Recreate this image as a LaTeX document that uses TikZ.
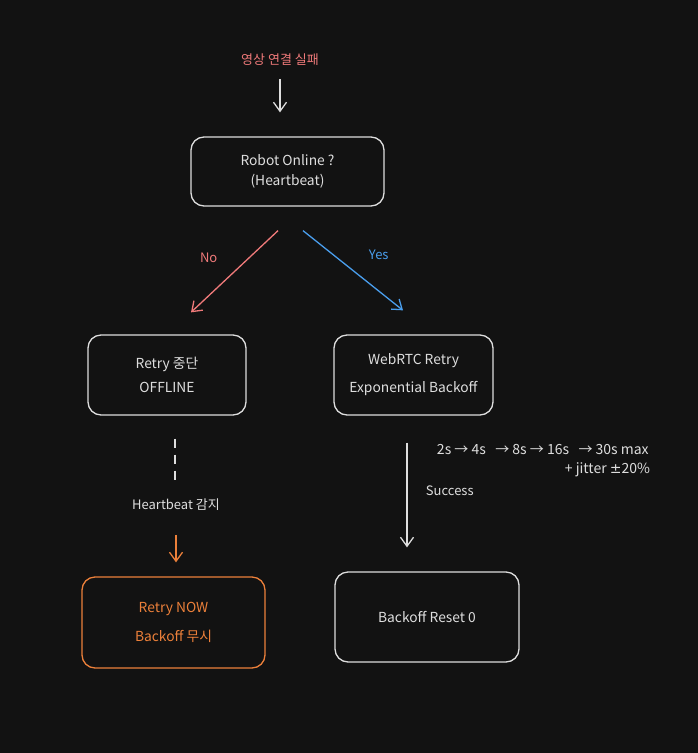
\documentclass[tikz,border=0pt]{standalone}
\usepackage{fontspec}
\setmainfont{Noto Sans CJK KR}
\newfontfamily\symfont{DejaVu Sans}
\usetikzlibrary{arrows.meta}

\definecolor{bg}{RGB}{18,18,18}
\definecolor{ink}{RGB}{222,222,222}
\definecolor{salmon}{RGB}{240,122,122}
\definecolor{skyblue}{RGB}{74,158,237}
\definecolor{tangerine}{RGB}{236,128,58}

\begin{document}
\begin{tikzpicture}[x=1pt, y=-1pt, line width=1.3pt,
  box/.style={draw=ink, rounded corners=13pt, align=center, text=ink},
  lbl/.style={text=ink, font=\fontsize{13}{15}\selectfont},
  barb/.style={-{Straight Barb[length=9pt,width=13pt]}}]

\fill[bg] (0,0) rectangle (698,753);

%question
\node[text=salmon, font=\fontsize{13}{15}\selectfont] (fail) at (280,60) {영상 연결 실패};
\node[box, minimum width=193pt, minimum height=69pt, font=\fontsize{13.8}{20}\selectfont] (online) at (287.5,171.5) {Robot Online ?\\(Heartbeat)};
\draw[barb, ink] ([yshift=-9pt]fail.south) -- ([xshift=-7.5pt,yshift=24pt]online.north);

%no branch
\node[box, minimum width=158pt, minimum height=80pt, font=\fontsize{13.8}{24}\selectfont] (stop) at (167,375) {Retry 중단\\OFFLINE};
\draw[barb, salmon] ([xshift=-9.5pt,yshift=-24pt]online.south) -- ([xshift=24pt,yshift=22pt]stop.north) node[pos=0.33, left=28pt, font=\fontsize{13}{15}\selectfont] {No};
\node[lbl] (beat) at (176,505) {Heartbeat 감지};
\draw[ink, dash pattern=on 9pt off 7pt] ([xshift=8pt,yshift=-23pt]stop.south) -- ([xshift=-1pt,yshift=12pt]beat.north);
\node[box, draw=tangerine, text=tangerine, minimum width=183pt, minimum height=91pt, font=\fontsize{13.8}{29}\selectfont] (now) at (173.5,622.5) {Retry NOW\\Backoff 무시};
\draw[barb, tangerine] ([yshift=-20pt]beat.south) -- ([xshift=2.5pt,yshift=14pt]now.north);

%yes branch
\node[box, minimum width=159pt, minimum height=80pt, font=\fontsize{13.8}{28}\selectfont] (webrtc) at (413.5,375) {WebRTC Retry\\Exponential Backoff};
\draw[barb, skyblue] ([xshift=15.5pt,yshift=-24pt]online.south) -- ([xshift=-10.5pt,yshift=24pt]webrtc.north) node[pos=0.3, right=32pt, font=\fontsize{13}{15}\selectfont] {Yes};
\node[box, minimum width=184pt, minimum height=90pt, font=\fontsize{13.8}{20}\selectfont] (reset) at (427,617) {Backoff Reset 0};
\draw[barb, ink] ([xshift=-6.5pt,yshift=-27pt]webrtc.south) -- ([xshift=-20pt,yshift=24pt]reset.north) node[pos=0.46, right=15pt, lbl] (success) {Success};
\node[lbl, anchor=west, font=\fontsize{14}{16}\selectfont] (steps) at (433,450) {2s → 4s \ \ → 8s → 16s \ \ → 30s max};
\node[lbl, anchor=east, font=\fontsize{14}{16}\selectfont] (jitter) at (654,470) {+ jitter {\symfont ±}20\%};

\end{tikzpicture}
\end{document}
